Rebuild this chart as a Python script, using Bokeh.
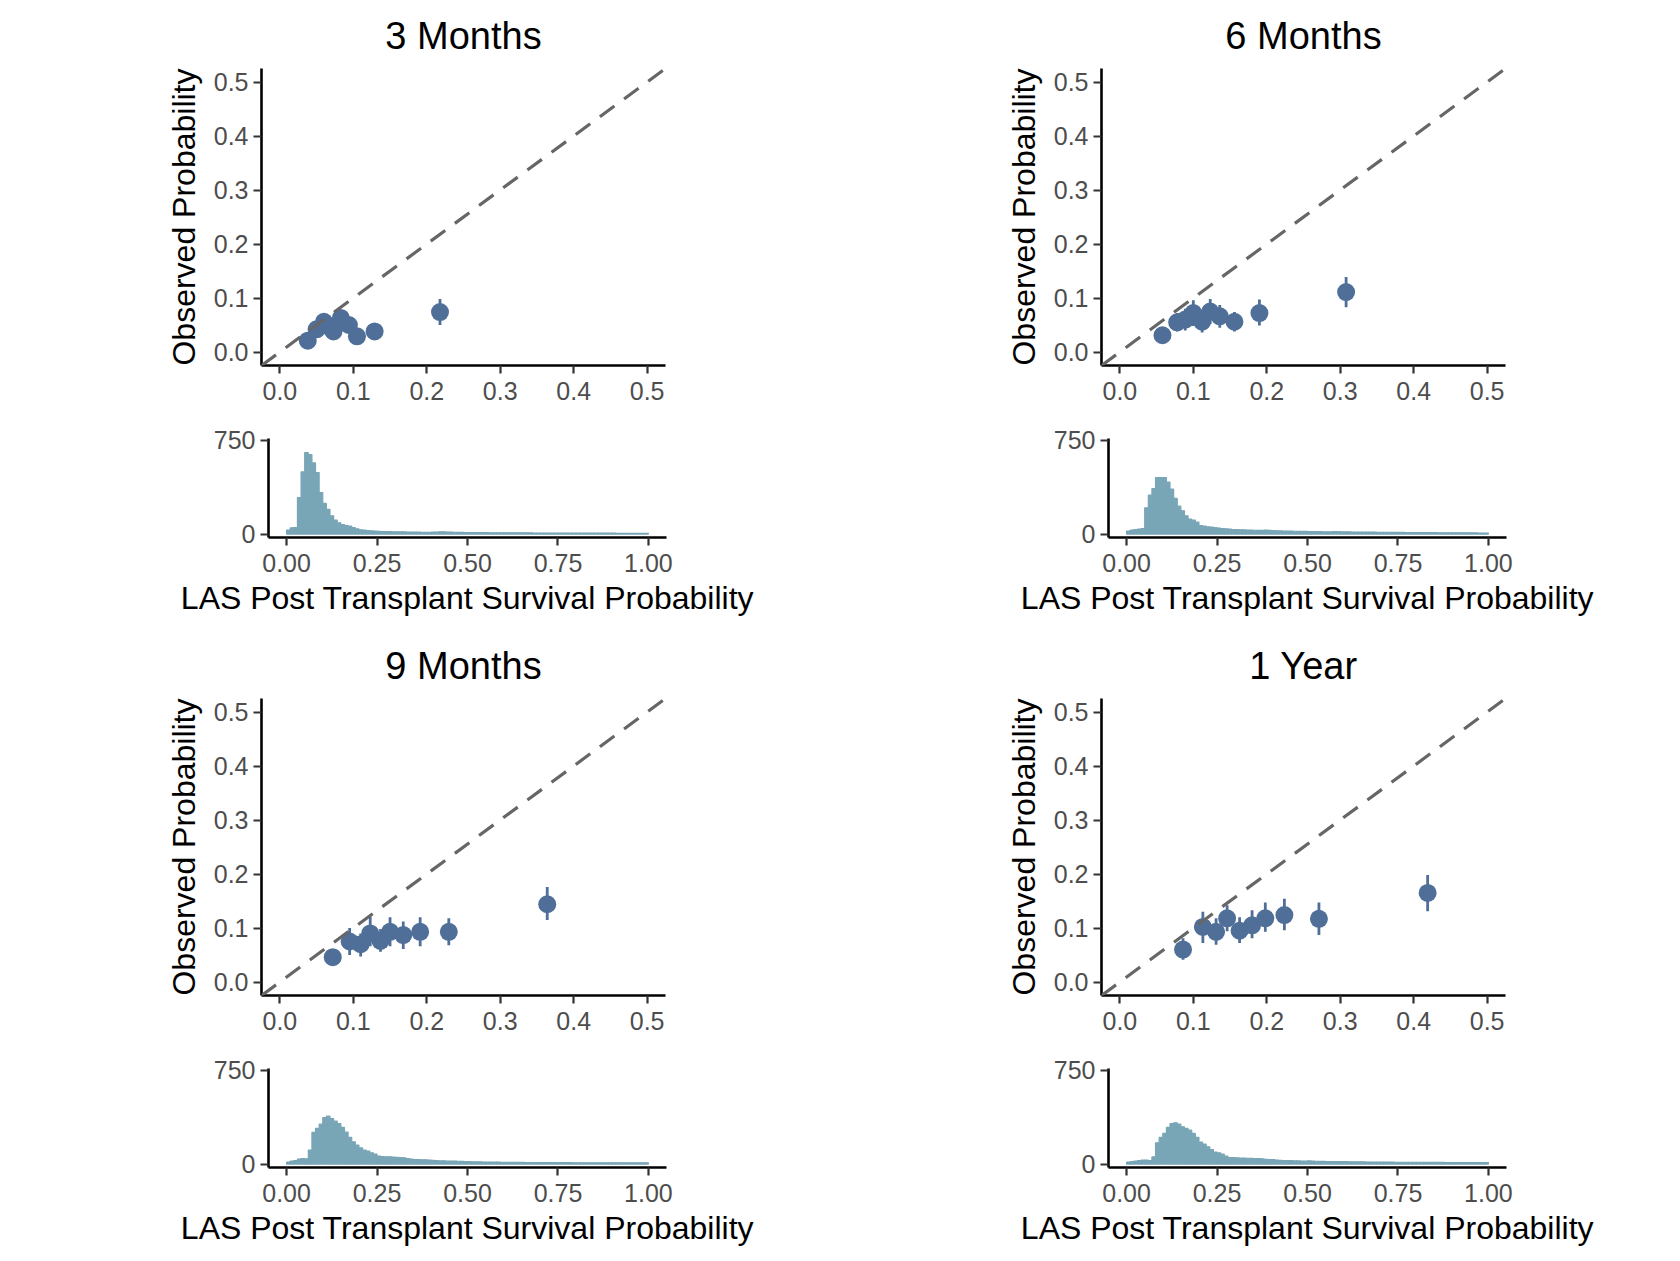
import numpy as np
from bokeh.plotting import figure
from bokeh.layouts import column, row
from bokeh.models import FixedTicker, NumeralTickFormatter, Slope
from bokeh.embed import file_html
from bokeh.resources import INLINE

# ---------------- data ----------------
panel_titles = ["3 Months", "6 Months", "9 Months", "1 Year"]

# calibration deciles: predicted (x), observed (y), interval (lo, hi)
pred_3m = [0.038, 0.050, 0.060, 0.066, 0.073, 0.083, 0.094, 0.105, 0.129, 0.218]
obs_3m = [0.021, 0.042, 0.056, 0.048, 0.038, 0.063, 0.050, 0.029, 0.038, 0.074]
lo_3m = [0.012, 0.030, 0.043, 0.036, 0.026, 0.049, 0.037, 0.018, 0.027, 0.050]
hi_3m = [0.031, 0.055, 0.070, 0.061, 0.051, 0.078, 0.064, 0.041, 0.050, 0.098]

pred_6m = [0.058, 0.078, 0.089, 0.100, 0.112, 0.123, 0.136, 0.156, 0.190, 0.308]
obs_6m = [0.031, 0.055, 0.060, 0.072, 0.056, 0.075, 0.066, 0.056, 0.072, 0.111]
lo_6m = [0.018, 0.038, 0.040, 0.048, 0.036, 0.052, 0.045, 0.038, 0.049, 0.083]
hi_6m = [0.044, 0.072, 0.080, 0.096, 0.076, 0.098, 0.087, 0.074, 0.097, 0.139]

pred_9m = [0.072, 0.095, 0.110, 0.123, 0.137, 0.150, 0.168, 0.191, 0.230, 0.364]
obs_9m = [0.046, 0.075, 0.070, 0.090, 0.076, 0.093, 0.087, 0.093, 0.093, 0.144]
lo_9m = [0.031, 0.050, 0.047, 0.066, 0.056, 0.066, 0.061, 0.066, 0.068, 0.115]
hi_9m = [0.060, 0.100, 0.090, 0.121, 0.098, 0.120, 0.112, 0.120, 0.118, 0.176]

pred_1y = [0.086, 0.113, 0.131, 0.146, 0.163, 0.180, 0.198, 0.224, 0.271, 0.419]
obs_1y = [0.060, 0.102, 0.093, 0.118, 0.095, 0.105, 0.118, 0.124, 0.117, 0.165]
lo_1y = [0.041, 0.072, 0.069, 0.094, 0.072, 0.081, 0.093, 0.096, 0.087, 0.131]
hi_1y = [0.081, 0.130, 0.118, 0.142, 0.120, 0.133, 0.147, 0.154, 0.147, 0.198]

# histogram counts, bins of width 0.01 from 0 to 1
hist_3m = [32, 50, 53, 292, 497, 652, 636, 569, 492, 332,
           245, 197, 146, 112, 90, 77, 69, 64, 53, 43,
           35, 32, 29, 27, 24, 22, 21, 21, 20, 19,
           19, 18, 18, 17, 17, 16, 16, 15, 15, 15,
           16, 17, 18, 18, 17, 16, 15, 14, 14, 13,
           13, 13, 12, 12, 12, 12, 11, 11, 11, 11,
           11, 10, 10, 10, 10, 10, 10, 10, 9, 9,
           9, 9, 9, 9, 9, 9, 9, 9, 9, 8,
           8, 8, 8, 8, 8, 8, 8, 8, 8, 8,
           8, 7, 7, 7, 7, 7, 7, 7, 7, 7]
hist_6m = [24, 32, 37, 40, 45, 210, 311, 364, 452, 452,
           452, 415, 359, 285, 223, 186, 146, 120, 112, 96,
           69, 64, 59, 56, 53, 48, 45, 43, 40, 37,
           37, 35, 34, 33, 32, 31, 30, 30, 33, 30,
           28, 27, 26, 25, 24, 24, 23, 23, 22, 22,
           21, 21, 20, 20, 19, 19, 19, 20, 20, 19,
           18, 18, 17, 17, 17, 16, 16, 16, 16, 15,
           15, 15, 15, 14, 14, 14, 14, 13, 13, 13,
           13, 12, 12, 12, 12, 12, 11, 11, 11, 11,
           11, 10, 10, 10, 10, 10, 10, 9, 9, 9]
hist_9m = [16, 24, 29, 40, 45, 43, 112, 253, 285, 319,
           372, 383, 364, 343, 324, 293, 255, 213, 178, 152,
           130, 112, 104, 90, 80, 64, 61, 59, 58, 56,
           55, 53, 50, 45, 40, 37, 36, 35, 34, 32,
           30, 28, 27, 26, 25, 25, 24, 23, 22, 21,
           20, 19, 18, 18, 17, 17, 16, 16, 16, 15,
           15, 15, 14, 14, 14, 14, 13, 13, 13, 13,
           13, 13, 12, 12, 12, 12, 12, 12, 12, 11,
           11, 11, 11, 11, 11, 11, 11, 10, 10, 10,
           10, 10, 10, 10, 10, 10, 10, 10, 10, 10]
hist_1y = [16, 21, 24, 29, 32, 32, 29, 59, 170, 213,
           245, 293, 324, 330, 319, 298, 285, 271, 245, 213,
           176, 160, 138, 117, 96, 90, 80, 64, 53, 53,
           50, 48, 48, 47, 46, 45, 44, 42, 38, 37,
           36, 33, 30, 29, 29, 28, 27, 26, 25, 24,
           26, 25, 23, 22, 22, 21, 21, 21, 20, 20,
           20, 19, 19, 19, 18, 18, 17, 17, 17, 16,
           16, 16, 16, 16, 15, 15, 15, 15, 15, 15,
           15, 15, 14, 14, 14, 14, 14, 14, 13, 13,
           13, 13, 13, 13, 13, 12, 12, 12, 12, 12]

bin_start = 0.0
bin_width = 0.01

scatter_ticks = [0, 0.1, 0.2, 0.3, 0.4, 0.5]
hist_x_ticks = [0, 0.25, 0.5, 0.75, 1.0]
hist_y_ticks = [0, 750]

x_label_hist = "LAS Post Transplant Survival Probability"
y_label_scatter = "Observed Probability"

# ---------------- style ----------------
FONT = "Liberation Sans"
POINT_COLOR = "#4F6F99"
HIST_COLOR = "#79A6B7"
TICK_TEXT = "#4D4D4D"


def style_axis(ax, label=""):
    ax.axis_label = label
    ax.axis_label_text_font = FONT
    ax.axis_label_text_font_size = "32px"
    ax.axis_label_text_font_style = "normal"
    ax.axis_label_text_color = "black"
    ax.major_label_text_font = FONT
    ax.major_label_text_font_size = "25px"
    ax.major_label_text_color = TICK_TEXT
    ax.axis_line_color = "black"
    ax.axis_line_width = 2.6
    ax.major_tick_line_color = "#333333"
    ax.major_tick_line_width = 2.2
    ax.major_tick_out = 8
    ax.major_tick_in = 0
    ax.minor_tick_line_color = None
    ax.major_label_standoff = 5
    ax.axis_label_standoff = 4


def base_fig(w, h, xr, yr, lb, rb, tb, bb):
    p = figure(width=w, height=h, x_range=xr, y_range=yr,
               output_backend="svg", toolbar_location=None,
               min_border_left=lb, min_border_right=rb,
               min_border_top=tb, min_border_bottom=bb)
    p.outline_line_color = None
    p.xgrid.grid_line_color = None
    p.ygrid.grid_line_color = None
    p.background_fill_color = "white"
    p.border_fill_color = "white"
    return p


def make_scatter(title, x, y, lo, hi, w, lb, rb):
    h, tb = 410, 68
    p = base_fig(w, h, (-0.025, 0.525), (-0.025, 0.525), lb, rb, tb, h - tb - 297)
    p.title.text = title
    p.title.align = "center"
    p.title.text_font = FONT
    p.title.text_font_size = "38px"
    p.title.text_font_style = "normal"
    p.title.text_color = "black"
    p.title.standoff = 24
    p.add_layout(Slope(gradient=1, y_intercept=0, line_color="#666666",
                       line_width=3.2, line_dash="18 12"))
    p.segment(x0=x, y0=lo, x1=x, y1=hi, line_color=POINT_COLOR, line_width=2.8)
    p.scatter(x=x, y=y, size=18, fill_color=POINT_COLOR, line_color=POINT_COLOR,
              line_width=0)
    style_axis(p.xaxis[0])
    style_axis(p.yaxis[0], y_label_scatter)
    p.xaxis[0].major_label_standoff = 8
    p.yaxis[0].axis_label_standoff = 9
    p.xaxis.ticker = FixedTicker(ticks=scatter_ticks)
    p.yaxis.ticker = FixedTicker(ticks=scatter_ticks)
    p.xaxis.formatter = NumeralTickFormatter(format="0.0")
    p.yaxis.formatter = NumeralTickFormatter(format="0.0")
    return p


def make_hist(counts, w, h, lb, rb):
    p = base_fig(w, h, (-0.05, 1.05), (-27, 764), lb, rb, 28, h - 28 - 99)
    n = len(counts)
    left = [bin_start + i * bin_width for i in range(n)]
    right = [bin_start + (i + 1) * bin_width for i in range(n)]
    p.quad(left=left, right=right, bottom=0, top=counts,
           fill_color=HIST_COLOR, line_color=HIST_COLOR, line_width=1.2)
    style_axis(p.xaxis[0], x_label_hist)
    style_axis(p.yaxis[0])
    p.xaxis[0].major_label_standoff = 8
    p.xaxis[0].axis_label_standoff = 5
    p.xaxis.ticker = FixedTicker(ticks=hist_x_ticks)
    p.yaxis.ticker = FixedTicker(ticks=hist_y_ticks)
    p.xaxis.formatter = NumeralTickFormatter(format="0.00")
    p.yaxis.formatter = NumeralTickFormatter(format="0")
    return p


# left column cells are 840 px wide, right column 832 px
s1 = make_scatter(panel_titles[0], pred_3m, obs_3m, lo_3m, hi_3m, 840, 261, 175)
s2 = make_scatter(panel_titles[1], pred_6m, obs_6m, lo_6m, hi_6m, 832, 261, 167)
s3 = make_scatter(panel_titles[2], pred_9m, obs_9m, lo_9m, hi_9m, 840, 261, 175)
s4 = make_scatter(panel_titles[3], pred_1y, obs_1y, lo_1y, hi_1y, 832, 261, 167)

h1 = make_hist(hist_3m, 840, 220, 268, 174)
h2 = make_hist(hist_6m, 832, 220, 268, 166)
h3 = make_hist(hist_9m, 840, 213, 268, 174)
h4 = make_hist(hist_1y, 832, 213, 268, 166)

layout = column(row(s1, s2), row(h1, h2), row(s3, s4), row(h3, h4))

open("out.html", "w").write(file_html(layout, INLINE))
